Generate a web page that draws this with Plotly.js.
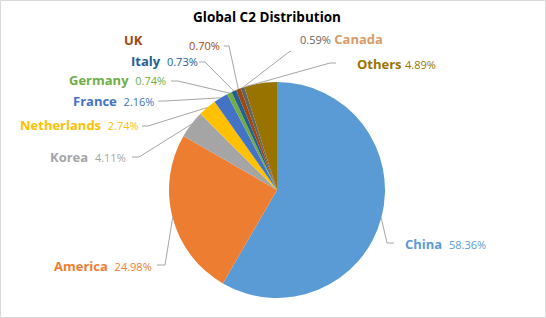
<!DOCTYPE html>
<html>
<head>
<meta charset="utf-8">
<script src="https://cdn.plot.ly/plotly-3.0.1.min.js"></script>
<style>html,body{margin:0;padding:0;background:#fff;}#chart{width:546px;height:318px;}</style>
</head>
<body>
<div id="chart"></div>
<script>
// ---- data ----
var labels = ['China','America','Korea','Netherlands','France','Germany','Italy','UK','Canada','Others'];
var values = [58.36, 24.98, 4.11, 2.74, 2.16, 0.74, 0.73, 0.70, 0.59, 4.89];
var pctText = ['58.36%','24.98%','4.11%','2.74%','2.16%','0.74%','0.73%','0.70%','0.59%','4.89%'];
var sliceColors = ['#5B9BD5','#ED7D31','#A5A5A5','#FFC000','#4472C4','#70AD47','#255E91','#9E480E','#636363','#997300'];
var nameColors  = ['#5B9BD5','#ED7D31','#A5A5A5','#FFC000','#4472C4','#70AD47','#255E91','#9E480E','#D89C68','#997300'];

// ---- layout (pixel positions of labels / leader lines) ----
var W = 546, H = 318;
var CX = 277, CY = 190, R = 108;
// label text start [x, y]
var labelPos = [[403,244],[52,266],[48,157],[18,125],[71,101],[67,80],[129,61],[187,46],[298,39],[355,64]];
// leader line start near text, and elbow
var lineStart = [[394,243],[157,265],[132,157],[142,126],[158,101],[171,81],[199,62],[224,46],[291,51],[336,63]];
var lineElbow = [[387,243],[165,265],[139,157],[148,126],[165,101],[178,81],[205,62],[229,46],[289,52],[330,63]];
var tipFrac = [0.5,0.5,0.5,0.5,0.5,0.5,0.5,0.5,0.5,0.05];
var FONT = 'Open Sans, Noto Sans, sans-serif';

function px(x){return x / W;}
function py(y){return 1 - y / H;}

var total = values.reduce(function(a,b){return a+b;},0);
var shapes = [];
var annotations = [];
var cum = 0;
for (var i = 0; i < labels.length; i++) {
  var ang = (cum + values[i] * tipFrac[i]) / total * 2 * Math.PI;
  cum += values[i];
  var tx = CX + R * Math.sin(ang), ty = CY - R * Math.cos(ang);
  var s = lineStart[i], e = lineElbow[i];
  shapes.push({type:'path', xref:'paper', yref:'paper',
    path: 'M' + px(s[0]) + ',' + py(s[1]) + ' L' + px(e[0]) + ',' + py(e[1]) + ' L' + px(tx) + ',' + py(ty),
    line:{color:'#A6A6A6', width:1}});
  var nm = '<b>' + labels[i] + '</b>';
  var pc = '<span style="font-size:11px;color:' + sliceColors[i] + '">' + pctText[i] + '</span>';
  var txt;
  if (labels[i] === 'UK') {
    annotations.push({xref:'paper', yref:'paper', x:px(122), y:py(40), xanchor:'left', yanchor:'middle',
      showarrow:false, text:nm, font:{family:FONT, size:13, color:nameColors[i]}});
    txt = pc;
  } else if (labels[i] === 'Canada') {
    txt = pc + ' ' + nm;
  } else if (labels[i] === 'Others') {
    txt = nm + ' ' + pc;
  } else {
    txt = nm + '  ' + pc;
  }
  annotations.push({xref:'paper', yref:'paper', x:px(labelPos[i][0]), y:py(labelPos[i][1]),
    xanchor:'left', yanchor:'middle', showarrow:false, text:txt,
    font:{family:FONT, size:13, color:nameColors[i]}});
}

shapes.push({type:'rect', xref:'paper', yref:'paper', x0:px(0.5), x1:px(W-0.5), y0:py(H-0.5), y1:py(0.5),
  line:{color:'#D9D9D9', width:1}});

var trace = {
  type:'pie', labels:labels, values:values, sort:false, direction:'clockwise', rotation:0,
  textinfo:'none', hoverinfo:'label+percent',
  marker:{colors:sliceColors, line:{width:0}},
  domain:{x:[px(CX-R), px(CX+R)], y:[py(CY+R), py(CY-R)]},
  showlegend:false
};

var layout = {
  width:W, height:H, margin:{l:0,r:0,t:0,b:0},
  paper_bgcolor:'#ffffff', plot_bgcolor:'#ffffff',
  title:{text:'<b>Global C2 Distribution</b>', x:px(267), xanchor:'center', y:py(17), yanchor:'middle', yref:'container',
    font:{family:FONT, size:13.5, color:'#000000'}},
  showlegend:false, shapes:shapes, annotations:annotations
};

Plotly.newPlot('chart', [trace], layout, {displayModeBar:false, staticPlot:true});
</script>
</body>
</html>
